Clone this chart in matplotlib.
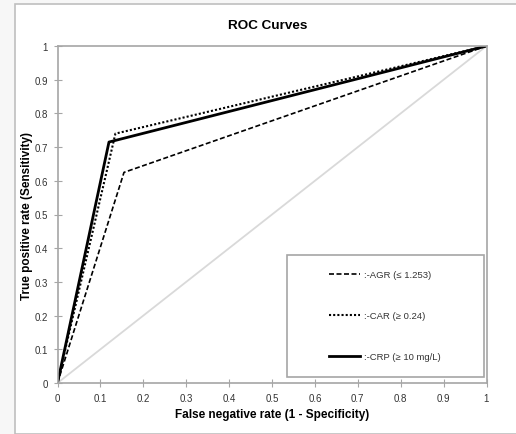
import matplotlib.pyplot as plt
from matplotlib.patches import Rectangle

plt.rcParams['font.family'] = ['Liberation Sans', 'DejaVu Sans']

# ROC points (1 - specificity, sensitivity)
agr_x = [0, 0.155, 1]
agr_y = [0, 0.625, 1]
car_x = [0, 0.135, 1]
car_y = [0, 0.74, 1]
crp_x = [0, 0.12, 1]
crp_y = [0, 0.715, 1]
ref_x = [0, 1]
ref_y = [0, 1]

labels = [':-AGR (\u2264 1.253)', ':-CAR (\u2265 0.24)', ':-CRP (\u2265 10 mg/L)']
ticks = [0, 0.1, 0.2, 0.3, 0.4, 0.5, 0.6, 0.7, 0.8, 0.9, 1]
tick_labels = ['0', '0.1', '0.2', '0.3', '0.4', '0.5', '0.6', '0.7', '0.8', '0.9', '1']

fig = plt.figure(figsize=(5.16, 4.35), dpi=100)
fig.patch.set_facecolor('#f7f7f7')
fig.add_artist(Rectangle((15 / 516, 0.0), 1.0, 1 - 5 / 435, transform=fig.transFigure,
                         facecolor='white', edgecolor='#bfbfbf', linewidth=1.2, zorder=-10))

ax = fig.add_axes([57.5 / 516, 1 - 384 / 435, (486.5 - 57.5) / 516, (384 - 47) / 435])
ax.set_facecolor('white')

ax.plot(ref_x, ref_y, color='#d9d9d9', linewidth=1.3, zorder=1)
ax.plot(agr_x, agr_y, color='black', linestyle=(0, (3, 1.5)), linewidth=1.2, label=labels[0])
ax.plot(car_x, car_y, color='black', linestyle=(0, (1, 1)), linewidth=1.5, label=labels[1])
ax.plot(crp_x, crp_y, color='black', linestyle='-', linewidth=2.0, label=labels[2])

ax.set_xlim(0, 1)
ax.set_ylim(0, 1)
ax.set_xticks(ticks)
ax.set_xticklabels(tick_labels)
ax.set_yticks(ticks)
ax.set_yticklabels(tick_labels)
ax.tick_params(direction='inout', length=6, color='#a6a6a6', labelsize=7, labelcolor='#333333', pad=4)
for s in ax.spines.values():
    s.set_color('#a6a6a6')
    s.set_linewidth(1.2)

ax.set_title('ROC Curves', fontsize=9.7, fontweight='bold', pad=13, x=0.49)
ax.set_xlabel('False negative rate (1 - Specificity)', fontsize=8.5, fontweight='bold')
ax.set_ylabel('True positive rate (Sensitivity)', fontsize=8.5, fontweight='bold')
ax.yaxis.set_label_coords(-0.057, 0.5)

# legend frame drawn separately (wide horizontal padding)
ax.add_patch(Rectangle((0.535, 0.018), 0.459, 0.362, transform=ax.transAxes,
                       facecolor='white', edgecolor='#a6a6a6', linewidth=1.2, zorder=3))
leg = ax.legend(loc='upper left', bbox_to_anchor=(0.633, 0.335), fontsize=6.8, frameon=False,
                handlelength=3.3, labelspacing=3.4, borderpad=0, borderaxespad=0,
                handletextpad=0.4)
leg.set_zorder(4)
for t in leg.get_texts():
    t.set_color('#333333')

fig.savefig('out.png', dpi=100)
